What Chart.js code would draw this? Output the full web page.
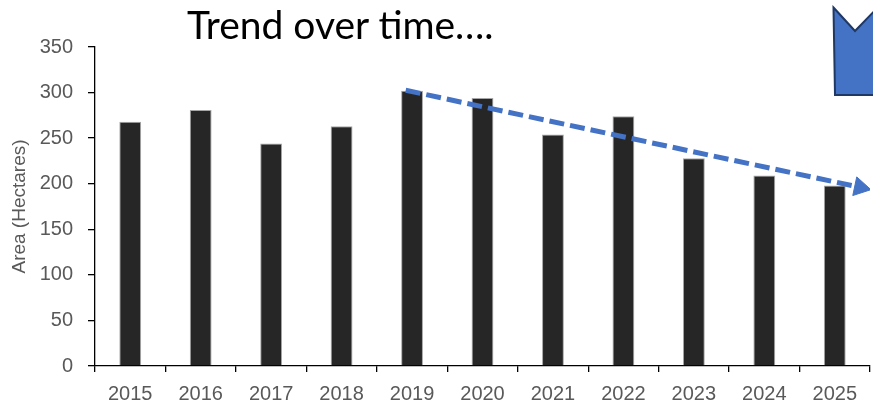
<!DOCTYPE html>
<html>
<head>
<meta charset="utf-8">
<script src="https://cdn.jsdelivr.net/npm/chart.js@4.4.1/dist/chart.umd.min.js"></script>
<style>
  html, body { margin: 0; padding: 0; background: #ffffff; overflow: hidden; width: 873px; height: 406px; }
  #wrap { position: relative; width: 873px; height: 406px; overflow: hidden; }
  canvas { position: absolute; left: 0; top: 0; }
  #title { position: absolute; left: 187px; top: 1px; font-family: Lato, "Open Sans", sans-serif; font-size: 39px; color: #000; white-space: nowrap; line-height: 46px; }
  #deco { position: absolute; left: 0; top: 0; }
</style>
</head>
<body>
<div id="wrap">
  <canvas id="c" width="882" height="406" style="width:882px;height:406px"></canvas>
  <div id="title">Trend over time….</div>
  <svg id="deco" width="873" height="406">
    <polygon points="833.5,7.5 855,31 882,3 882,95 835,95" fill="#4472C4" stroke="#1F3864" stroke-width="2" stroke-linejoin="miter"/>
  </svg>
</div>
<script>
// ---- data ----
const years = ['2015','2016','2017','2018','2019','2020','2021','2022','2023','2024','2025'];
const areaHectares = [268, 281, 244, 263, 302, 294, 254, 274, 228, 209, 198];
const yTicks = [0, 50, 100, 150, 200, 250, 300, 350];
const yAxisTitle = 'Area (Hectares)';
// trend arrow: category position and value at its two ends
const trendX = [3.91, 10.36];
const trendY = [302.5, 196];

const tickColor = '#595959';
const tickFont = { family: '"Liberation Sans", Arial, sans-serif', size: 20 };

new Chart(document.getElementById('c'), {
  data: {
    labels: years,
    datasets: [
      {
        type: 'bar',
        data: areaHectares,
        backgroundColor: '#262626',
        borderColor: '#a6a6a6',
        borderWidth: 1,
        grouped: false,
        categoryPercentage: 1,
        barPercentage: 0.31,
        xAxisID: 'x',
        yAxisID: 'y',
        order: 2
      },
      {
        type: 'line',
        data: trendX.map((x, i) => ({ x: x, y: trendY[i] })),
        xAxisID: 'xt',
        yAxisID: 'y',
        borderColor: '#4472C4',
        borderWidth: 5,
        borderDash: [15, 6],
        borderCapStyle: 'butt',
        fill: false,
        tension: 0,
        pointStyle: 'triangle',
        pointRadius: [0, 11],
        pointRotation: 102,
        pointBackgroundColor: '#4472C4',
        pointBorderColor: '#4472C4',
        pointBorderWidth: 1,
        order: 1
      }
    ]
  },
  options: {
    responsive: false,
    animation: false,
    layout: { padding: { top: 47, right: 2, left: 0, bottom: 0 } },
    plugins: { legend: { display: false }, tooltip: { enabled: false }, title: { display: false } },
    scales: {
      x: {
        type: 'category',
        offset: true,
        grid: { offset: true, drawOnChartArea: false, drawTicks: true, tickLength: 6, color: '#000', lineWidth: 1.3 },
        border: { display: true, color: '#000', width: 1.3 },
        ticks: { color: tickColor, font: tickFont, padding: 10, maxRotation: 0, autoSkip: false },
        afterFit: s => { s.height = 40; }
      },
      xt: {
        type: 'linear',
        display: false,
        min: -0.5,
        max: years.length - 0.5
      },
      y: {
        type: 'linear',
        min: 0,
        max: 350,
        afterBuildTicks: s => { s.ticks = yTicks.map(v => ({ value: v })); },
        grid: { drawOnChartArea: false, drawTicks: true, tickLength: 7, color: '#000', lineWidth: 1.3 },
        border: { display: true, color: '#000', width: 1.3 },
        ticks: { color: tickColor, font: tickFont, padding: 15 },
        title: { display: true, text: yAxisTitle, color: tickColor, font: { family: '"Liberation Sans", Arial, sans-serif', size: 19 }, padding: { top: 8, bottom: 0 } },
        afterFit: s => { s.width = 95; }
      }
    }
  }
});
</script>
</body>
</html>
